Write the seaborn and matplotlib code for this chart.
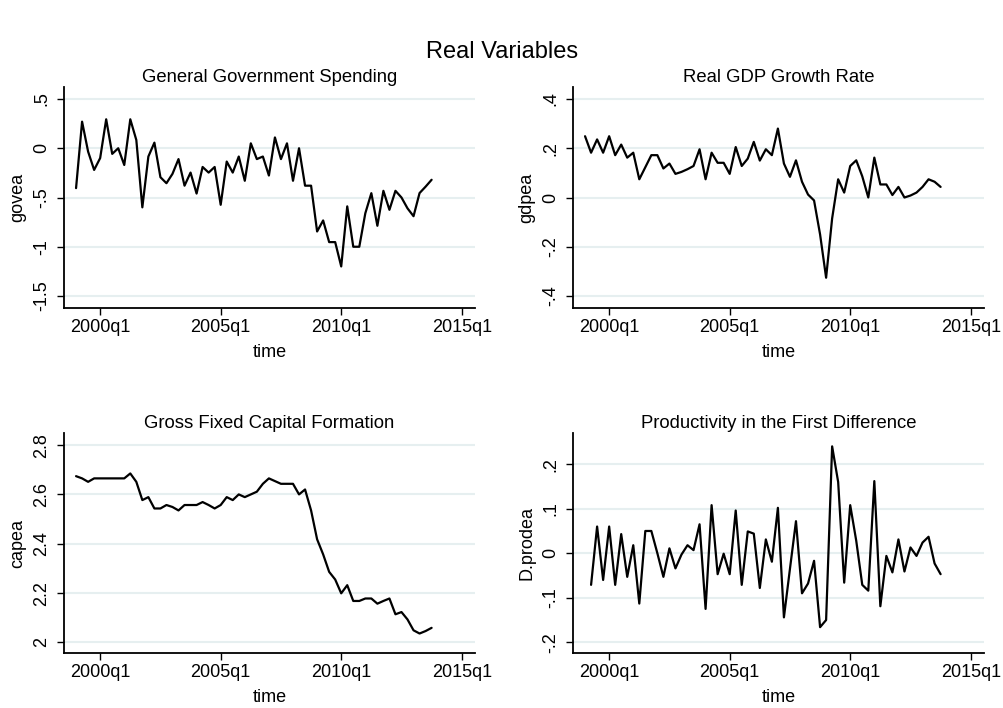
import numpy as np
import pandas as pd
import matplotlib
matplotlib.use("Agg")
import matplotlib.pyplot as plt
import seaborn as sns

# ---------------- data ----------------
quarters = pd.period_range("1999Q1", "2013Q4", freq="Q")   # 60 quarters

govea = [-0.405, 0.27, -0.034, -0.22, -0.10, 0.294, -0.057, 0.0, -0.17, 0.294,
         0.084, -0.60, -0.084, 0.057, -0.294, -0.355, -0.26, -0.11, -0.38, -0.247,
         -0.46, -0.19, -0.247, -0.19, -0.574, -0.135, -0.247, -0.084, -0.33, 0.05,
         -0.11, -0.084, -0.277, 0.11, -0.11, 0.05, -0.33, 0.0, -0.38, -0.38,
         -0.845, -0.733, -0.953, -0.953, -1.2, -0.59, -1.0, -1.0, -0.66, -0.456,
         -0.787, -0.432, -0.625, -0.432, -0.50, -0.61, -0.69, -0.455, -0.39, -0.32]

gdpea = [0.249, 0.182, 0.236, 0.182, 0.249, 0.172, 0.215, 0.162, 0.182, 0.074,
         0.123, 0.172, 0.172, 0.118, 0.138, 0.096, 0.104, 0.115, 0.128, 0.196,
         0.074, 0.182, 0.141, 0.141, 0.096, 0.205, 0.128, 0.158, 0.226, 0.150,
         0.196, 0.172, 0.280, 0.138, 0.084, 0.151, 0.064, 0.012, -0.012, -0.15,
         -0.326, -0.085, 0.074, 0.020, 0.128, 0.151, 0.086, 0.0, 0.162, 0.053,
         0.053, 0.010, 0.043, 0.0, 0.008, 0.020, 0.043, 0.074, 0.064, 0.043]

capea = [2.674, 2.665, 2.651, 2.665, 2.665, 2.665, 2.665, 2.665, 2.665, 2.685,
         2.651, 2.577, 2.589, 2.543, 2.543, 2.557, 2.549, 2.535, 2.557, 2.557,
         2.557, 2.569, 2.557, 2.543, 2.557, 2.589, 2.577, 2.600, 2.589, 2.600,
         2.611, 2.643, 2.665, 2.654, 2.643, 2.643, 2.643, 2.600, 2.620, 2.535,
         2.418, 2.357, 2.286, 2.255, 2.199, 2.232, 2.168, 2.168, 2.178, 2.178,
         2.157, 2.168, 2.178, 2.114, 2.123, 2.093, 2.049, 2.036, 2.046, 2.059]

# first difference: starts 1999q2
d_prodea = [-0.071, 0.060, -0.060, 0.060, -0.071, 0.043, -0.053, 0.018, -0.113, 0.050,
            0.050, 0.0, -0.053, 0.011, -0.034, -0.003, 0.018, 0.007, 0.065, -0.125,
            0.108, -0.047, -0.001, -0.047, 0.096, -0.071, 0.049, 0.044, -0.078, 0.031,
            -0.019, 0.102, -0.144, -0.035, 0.072, -0.090, -0.068, -0.017, -0.166, -0.150,
            0.240, 0.160, -0.066, 0.108, 0.028, -0.071, -0.084, 0.162, -0.119, -0.006,
            -0.043, 0.031, -0.041, 0.013, -0.006, 0.024, 0.037, -0.023, -0.047]

x_tick_labels = ["2000q1", "2005q1", "2010q1", "2015q1"]

panel_titles = ["General Government Spending", "Real GDP Growth Rate",
                "Gross Fixed Capital Formation", "Productivity in the First Difference"]
y_names = ["govea", "gdpea", "capea", "D.prodea"]

govea_ticks = [0.5, 0, -0.5, -1, -1.5]
govea_labels = [".5", "0", "-.5", "-1", "-1.5"]
gdpea_ticks = [0.4, 0.2, 0, -0.2, -0.4]
gdpea_labels = [".4", ".2", "0", "-.2", "-.4"]
capea_ticks = [2.8, 2.6, 2.4, 2.2, 2.0]
capea_labels = ["2.8", "2.6", "2.4", "2.2", "2"]
dprod_ticks = [0.2, 0.1, 0, -0.1, -0.2]
dprod_labels = [".2", ".1", "0", "-.1", "-.2"]

# ---------------- build frames ----------------
base = pd.Period("1999Q1", freq="Q")
qidx = np.array([(q - base).n for q in quarters])           # quarter index, 0 = 1999q1
tick_periods = [pd.Period(s.replace("q", "Q"), freq="Q") for s in x_tick_labels]
tick_pos = [(p - base).n for p in tick_periods]

frames = [
    pd.DataFrame({"time": qidx, "value": govea}),
    pd.DataFrame({"time": qidx, "value": gdpea}),
    pd.DataFrame({"time": qidx, "value": capea}),
    pd.DataFrame({"time": qidx[1:], "value": d_prodea}),
]
yticks = [(govea_ticks, govea_labels), (gdpea_ticks, gdpea_labels),
          (capea_ticks, capea_labels), (dprod_ticks, dprod_labels)]
ylims = [(-1.622, 0.622), (-0.449, 0.449), (1.957, 2.849), (-0.224, 0.270)]

# ---------------- style ----------------
sns.set_theme(style="white")
plt.rcParams["font.family"] = ["Liberation Sans", "DejaVu Sans"]

fig = plt.figure(figsize=(10.04, 7.08), dpi=100)
rects = [
    [64 / 1004, 1 - 308 / 708, 411 / 1004, 221 / 708],
    [573 / 1004, 1 - 308 / 708, 411 / 1004, 221 / 708],
    [64 / 1004, 1 - 653 / 708, 411 / 1004, 220 / 708],
    [573 / 1004, 1 - 653 / 708, 411 / 1004, 220 / 708],
]

for i in range(4):
    ax = fig.add_axes(rects[i])
    ax.set_facecolor("white")
    sns.lineplot(data=frames[i], x="time", y="value", ax=ax,
                 color="black", linewidth=1.6)
    ax.set_xlim(-2.0, 66.2)
    ax.set_ylim(*ylims[i])
    tks, lbls = yticks[i]
    ax.set_yticks(tks)
    ax.set_yticklabels(lbls, rotation=90, va="center")
    ax.set_xticks(tick_pos)
    ax.set_xticklabels(x_tick_labels)
    ax.yaxis.grid(True, color="#E6EFF0", linewidth=1.5)
    ax.xaxis.grid(False)
    ax.set_axisbelow(True)
    for s in ["top", "right"]:
        ax.spines[s].set_visible(False)
    for s in ["left", "bottom"]:
        ax.spines[s].set_color("black")
        ax.spines[s].set_linewidth(1.3)
    ax.tick_params(axis="both", which="major", direction="out", length=5,
                   width=1, color="black", labelsize=13, labelcolor="black",
                   left=True, bottom=True)
    ax.tick_params(axis="y", pad=5)
    ax.tick_params(axis="x", pad=3)
    ax.set_title(panel_titles[i], fontsize=13.3, pad=3.5, color="black")
    ax.set_xlabel("time", fontsize=13, color="black")
    ax.set_ylabel(y_names[i], fontsize=13, color="black")
    ax.xaxis.set_label_coords(0.5, -0.162)
    ax.yaxis.set_label_coords(-0.092, 0.5)

fig.text(0.5, 1 - 52 / 708, "Real Variables", ha="center", va="center",
         fontsize=17, color="black")

fig.savefig("out.png", dpi=100, facecolor="white")
